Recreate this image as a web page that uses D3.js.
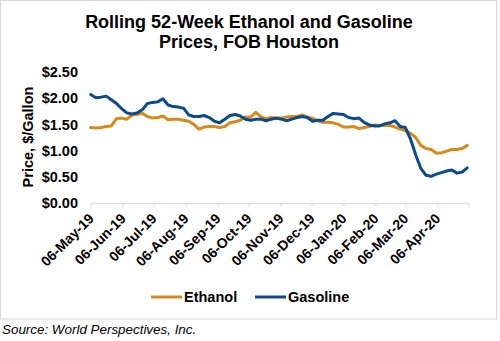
<!DOCTYPE html>
<html>
<head>
<meta charset="utf-8">
<script src="https://cdn.jsdelivr.net/npm/d3@7"></script>
<style>
  html, body { margin: 0; padding: 0; background: #fff; }
  svg { display: block; font-family: "Liberation Sans", Arial, sans-serif; }
</style>
</head>
<body>
<svg id="chart" width="500" height="341"></svg>
<script>
// ---- Data ----
const startDate = "2019-05-06";
const stepDays = 5; // one reading every 5 days
const ethanol = [
  1.44, 1.43, 1.44, 1.46, 1.47, 1.61, 1.62, 1.60, 1.68, 1.69,
  1.71, 1.65, 1.62, 1.63, 1.66, 1.59, 1.60, 1.60, 1.58, 1.56,
  1.50, 1.41, 1.45, 1.46, 1.46, 1.44, 1.46, 1.53, 1.55, 1.58,
  1.64, 1.64, 1.73, 1.65, 1.61, 1.63, 1.62, 1.62, 1.64, 1.65,
  1.65, 1.68, 1.64, 1.62, 1.57, 1.54, 1.54, 1.53, 1.50, 1.45,
  1.45, 1.46, 1.42, 1.44, 1.46, 1.49, 1.48, 1.48, 1.48, 1.45,
  1.41, 1.38, 1.33, 1.25, 1.10, 1.04, 1.02, 0.95, 0.96, 0.99,
  1.02, 1.02, 1.04, 1.10
];
const gasoline = [
  2.07, 2.01, 2.02, 2.04, 1.97, 1.90, 1.80, 1.72, 1.70, 1.72,
  1.78, 1.90, 1.92, 1.93, 1.99, 1.87, 1.84, 1.83, 1.81, 1.68,
  1.65, 1.65, 1.67, 1.63, 1.56, 1.53, 1.60, 1.67, 1.69, 1.66,
  1.60, 1.58, 1.60, 1.60, 1.57, 1.60, 1.62, 1.60, 1.57, 1.60,
  1.63, 1.65, 1.63, 1.56, 1.58, 1.58, 1.65, 1.71, 1.70, 1.69,
  1.63, 1.61, 1.62, 1.54, 1.49, 1.47, 1.47, 1.51, 1.53, 1.57,
  1.46, 1.44, 1.22, 0.92, 0.66, 0.53, 0.51, 0.55, 0.58, 0.61,
  0.63, 0.57, 0.59, 0.67
];
const tickDates = [
  "2019-05-06","2019-06-06","2019-07-06","2019-08-06","2019-09-06","2019-10-06",
  "2019-11-06","2019-12-06","2020-01-06","2020-02-06","2020-03-06","2020-04-06","2020-05-06"
];
const tickLabels = [
  "06-May-19","06-Jun-19","06-Jul-19","06-Aug-19","06-Sep-19","06-Oct-19",
  "06-Nov-19","06-Dec-19","06-Jan-20","06-Feb-20","06-Mar-20","06-Apr-20",""
];
const yTicks = [0, 0.5, 1.0, 1.5, 2.0, 2.5];
const seriesNames = ["Ethanol", "Gasoline"];
const colors = ["#D68A1C", "#0B4A8B"];

// ---- Build ----
const parse = d3.utcParse("%Y-%m-%d");
const t0 = parse(startDate);
const dates = ethanol.map((_, i) => d3.utcDay.offset(t0, i * stepDays));
const series = [ethanol, gasoline].map(vals => vals.map((v, i) => ({ date: dates[i], value: v })));

const svg = d3.select("#chart");
const FONT = "'Liberation Sans', Arial, sans-serif";

// frame
svg.append("rect").attr("x", 0.5).attr("y", 0.5).attr("width", 496).attr("height", 318.5)
  .attr("fill", "#fff").attr("stroke", "#d9d9d9").attr("stroke-width", 1);

const x = d3.scaleUtc().domain([parse(tickDates[0]), parse(tickDates[tickDates.length - 1])]).range([90.7, 468.3]);
const y = d3.scaleLinear().domain([0, 2.5]).range([203, 72]);

// title
const title = svg.append("text").attr("text-anchor", "middle").attr("font-weight", "bold")
  .attr("font-size", 18).attr("fill", "#000");
title.append("tspan").attr("x", 249).attr("y", 28).text("Rolling 52-Week Ethanol and Gasoline");
title.append("tspan").attr("x", 249).attr("y", 48).text("Prices, FOB Houston");

// y axis (labels only)
const yAxis = d3.axisLeft(y).tickValues(yTicks).tickFormat(d3.format("$.2f")).tickSize(0).tickPadding(0);
const gy = svg.append("g").attr("transform", "translate(78,0)").call(yAxis);
gy.select(".domain").remove();
gy.selectAll("text").attr("font-size", 14.5).attr("font-weight", "bold").attr("fill", "#000")
  .attr("font-family", FONT);

// y axis title
svg.append("text").attr("transform", "translate(33,137) rotate(-90)").attr("text-anchor", "middle")
  .attr("font-size", 14.5).attr("font-weight", "bold").attr("fill", "#000").text("Price, $/Gallon");

// x axis
const xAxis = d3.axisBottom(x).tickValues(tickDates.map(parse))
  .tickFormat((d, i) => tickLabels[i]).tickSizeInner(4).tickSizeOuter(0).tickPadding(4);
const gx = svg.append("g").attr("transform", "translate(0,203)").call(xAxis);
gx.select(".domain").attr("stroke", "#d9d9d9");
gx.selectAll(".tick line").attr("stroke", "#d9d9d9");
gx.selectAll("text").attr("font-size", 14).attr("font-weight", "bold").attr("fill", "#000")
  .attr("font-family", FONT)
  .attr("text-anchor", "end").attr("dy", "0.35em")
  .attr("transform", "translate(0,13) rotate(-45)").attr("y", 0).attr("x", 0);

// lines
const line = d3.line().x(d => x(d.date)).y(d => y(d.value));
series.forEach((s, i) => {
  svg.append("path").datum(s).attr("fill", "none").attr("stroke", colors[i])
    .attr("stroke-width", 3).attr("stroke-linejoin", "round").attr("stroke-linecap", "round")
    .attr("d", line);
});

// legend
const legendX = [151, 255];
seriesNames.forEach((name, i) => {
  const g = svg.append("g").attr("transform", `translate(${legendX[i]},297)`);
  g.append("line").attr("x1", 0).attr("x2", 31).attr("y1", 0).attr("y2", 0)
    .attr("stroke", colors[i]).attr("stroke-width", 3);
  g.append("text").attr("x", 33).attr("y", 5).attr("font-size", 14.5).attr("font-weight", "bold")
    .attr("fill", "#000").text(name);
});

// source
svg.append("text").attr("x", 2).attr("y", 334).attr("font-size", 13.4).attr("font-style", "italic")
  .attr("fill", "#000").text("Source: World Perspectives, Inc.");
</script>
</body>
</html>
